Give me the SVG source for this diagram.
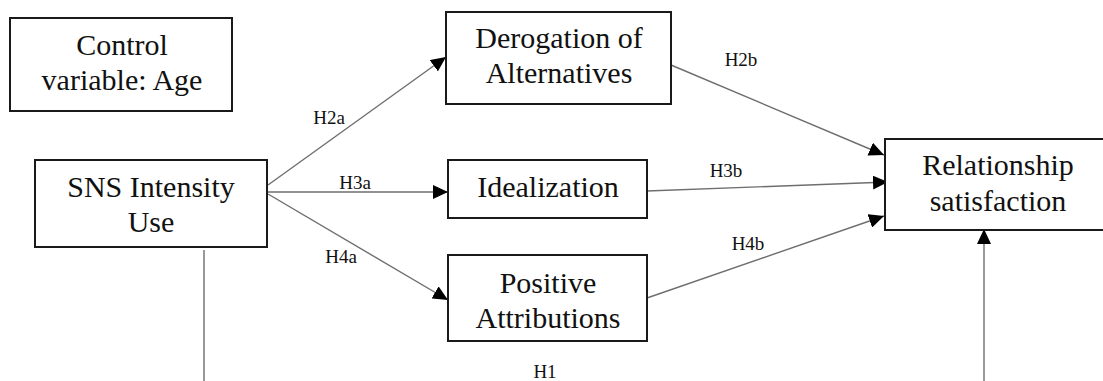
<svg xmlns="http://www.w3.org/2000/svg" width="1103" height="381" viewBox="0 0 1103 381">
<style>
.box{fill:#fff;stroke:#1a1a1a;stroke-width:2}
.c{stroke:#6e6e6e;stroke-width:1.4;fill:none}
</style>
<defs>
<marker id="ah" markerUnits="userSpaceOnUse" markerWidth="16" markerHeight="14" refX="15" refY="7" orient="auto">
<path d="M0,0 L15,7 L0,14 Z" fill="#000"/>
</marker>
</defs>
<rect width="1103" height="381" fill="#fff"/>
<g id="connectors">
<line class="c" x1="268" y1="185" x2="446" y2="57" marker-end="url(#ah)"/>
<line class="c" x1="268" y1="192" x2="448" y2="192" marker-end="url(#ah)"/>
<line class="c" x1="268" y1="194" x2="448" y2="300" marker-end="url(#ah)"/>
<line class="c" x1="671" y1="65" x2="884" y2="155" marker-end="url(#ah)"/>
<line class="c" x1="647" y1="191" x2="888" y2="182" marker-end="url(#ah)"/>
<line class="c" x1="647" y1="298" x2="884" y2="216" marker-end="url(#ah)"/>
<line class="c" x1="204" y1="250" x2="204" y2="381"/>
<line class="c" x1="984" y1="381" x2="984" y2="229" marker-end="url(#ah)"/>
<text x="329" y="124" font-family="Liberation Serif" font-size="19" text-anchor="middle" fill="#111">H2a</text>
<text x="355" y="189" font-family="Liberation Serif" font-size="19" text-anchor="middle" fill="#111">H3a</text>
<text x="341" y="263" font-family="Liberation Serif" font-size="19" text-anchor="middle" fill="#111">H4a</text>
<text x="741" y="66" font-family="Liberation Serif" font-size="19" text-anchor="middle" fill="#111">H2b</text>
<text x="726" y="177" font-family="Liberation Serif" font-size="19" text-anchor="middle" fill="#111">H3b</text>
<text x="748" y="250" font-family="Liberation Serif" font-size="19" text-anchor="middle" fill="#111">H4b</text>
<text x="545" y="378" font-family="Liberation Serif" font-size="19" text-anchor="middle" fill="#111">H1</text>
</g>
<g id="control">
<rect class="box" x="10" y="18" width="222" height="93"/>
<text x="122" y="55" font-family="Liberation Serif" font-size="30" text-anchor="middle" fill="#111">Control</text>
<text x="122" y="90" font-family="Liberation Serif" font-size="30" text-anchor="middle" fill="#111">variable: Age</text>
</g>
<g id="sns">
<rect class="box" x="35" y="160" width="232" height="87"/>
<text x="151" y="197" font-family="Liberation Serif" font-size="30" text-anchor="middle" fill="#111">SNS Intensity</text>
<text x="151" y="232" font-family="Liberation Serif" font-size="30" text-anchor="middle" fill="#111">Use</text>
</g>
<g id="derogation">
<rect class="box" x="446" y="12" width="225" height="92"/>
<text x="559" y="48" font-family="Liberation Serif" font-size="30" text-anchor="middle" fill="#111">Derogation of</text>
<text x="559" y="83" font-family="Liberation Serif" font-size="30" text-anchor="middle" fill="#111">Alternatives</text>
</g>
<g id="idealization">
<rect class="box" x="448" y="160" width="199" height="58"/>
<text x="548" y="197" font-family="Liberation Serif" font-size="30" text-anchor="middle" fill="#111">Idealization</text>
</g>
<g id="positive">
<rect class="box" x="448" y="255" width="199" height="86"/>
<text x="548" y="293" font-family="Liberation Serif" font-size="30" text-anchor="middle" fill="#111">Positive</text>
<text x="548" y="328" font-family="Liberation Serif" font-size="30" text-anchor="middle" fill="#111">Attributions</text>
</g>
<g id="relationship">
<rect class="box" x="885" y="139" width="240" height="91"/>
<text x="998" y="175" font-family="Liberation Serif" font-size="30" text-anchor="middle" fill="#111">Relationship</text>
<text x="998" y="211" font-family="Liberation Serif" font-size="30" text-anchor="middle" fill="#111">satisfaction</text>
</g>
</svg>
